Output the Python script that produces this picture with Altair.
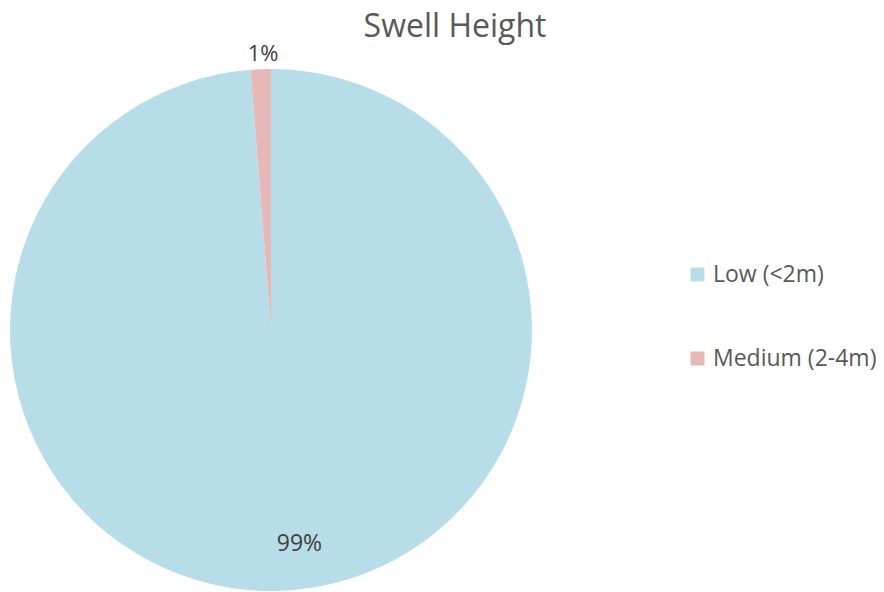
import altair as alt
import pandas as pd

categories = ["Low (<2m)", "Medium (2-4m)"]
values = [98.75, 1.25]
colors = ["#B7DEE8", "#E6B9B8"]
order = [0, 1]

df = pd.DataFrame({"cat": categories, "value": values, "ord": order})

FONT = "Open Sans"
CX, CY, R = 263, 322, 261

base = alt.Chart(df).transform_joinaggregate(
    total="sum(value)"
).transform_calculate(
    pct="round(datum.value / datum.total * 100) + '%'"
)

color = alt.Color(
    "cat:N",
    scale=alt.Scale(domain=categories, range=colors),
    legend=alt.Legend(
        title=None,
        orient="none",
        legendX=678,
        legendY=255,
        symbolType="square",
        symbolSize=196,
        symbolStrokeWidth=0,
        labelFont=FONT,
        labelFontSize=23,
        labelColor="#595959",
        labelOffset=4,
        rowPadding=60,
        labelLimit=300,
    ),
)

theta = alt.Theta("value:Q", stack=True)

pie = base.mark_arc(outerRadius=R, stroke=None).encode(
    theta=theta,
    color=color,
    order=alt.Order("ord:Q"),
    x=alt.value(CX),
    y=alt.value(CY),
)

label_low = base.transform_filter(alt.datum.cat == categories[0]).mark_text(
    radius=214, font=FONT, fontSize=23, color="#404040", baseline="middle", dx=20
).encode(theta=alt.Theta("value:Q", stack=True), order=alt.Order("ord:Q"), text="pct:N",
         x=alt.value(CX), y=alt.value(CY))

label_med = base.mark_text(
    radius=276, font=FONT, fontSize=22, color="#404040", baseline="middle", dx=3
).encode(theta=alt.Theta("value:Q", stack=True), order=alt.Order("ord:Q"), text="pct:N",
         x=alt.value(CX), y=alt.value(CY),
         opacity=alt.condition(alt.datum.cat == categories[1], alt.value(1), alt.value(0)))

title = alt.Chart(pd.DataFrame({"t": ["Swell Height"]})).mark_text(
    font=FONT, fontSize=32, color="#595959", baseline="alphabetic", align="center"
).encode(text="t:N", x=alt.value(447), y=alt.value(29))

chart = alt.layer(pie, label_low, label_med, title).properties(
    width=868, height=584, autosize=alt.AutoSizeParams(type="none"), padding=0
).configure_view(stroke=None)

chart.save("out.html", embed_options={"renderer": "svg", "actions": False})
